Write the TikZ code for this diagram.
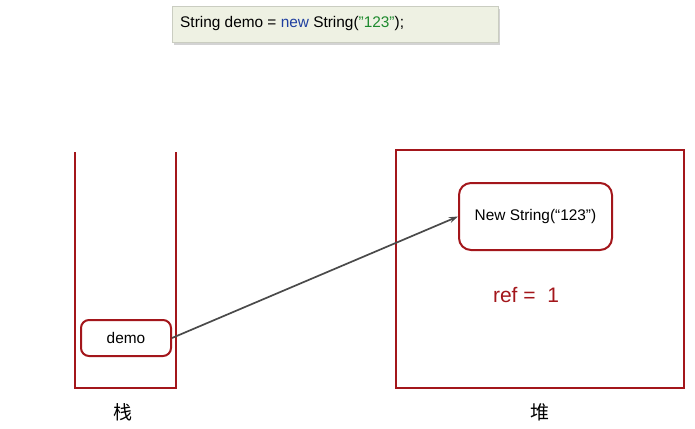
\documentclass[tikz,border=0pt]{standalone}
\usepackage{fontspec}
\setmainfont{Liberation Sans}[Ligatures=NoCommon]
\newfontfamily\cjk{Noto Sans CJK SC}
\definecolor{memred}{HTML}{A3161B}
\definecolor{codebg}{HTML}{EEF1E3}
\definecolor{kwblue}{HTML}{1F3FA0}
\definecolor{strgreen}{HTML}{1E8A2E}
\definecolor{arrowgray}{HTML}{4A4A4A}
\usetikzlibrary{positioning, arrows.meta, shadows}
\newcommand{\dq}{\symbol{34}}

\begin{document}
\begin{tikzpicture}[x=1pt, y=-1pt,
  codebox/.style={draw=codebg!85!black, fill=codebg, minimum width=326pt,
                  minimum height=36pt, inner sep=0pt,
                  drop shadow={shadow xshift=2pt, shadow yshift=-3pt, opacity=.35}},
  objbox/.style={draw=memred, line width=2pt, rounded corners=8pt,
                 fill=white, inner sep=0pt, font=\fontsize{15.4}{18}\selectfont},
  memwall/.style={draw=memred, line width=2.2pt},
  areaname/.style={font=\cjk\fontsize{19}{22}\selectfont},
  refarrow/.style={draw=arrowgray, line width=1.7pt, -{Stealth[length=9pt, width=6pt]}},
]
\useasboundingbox (0,0) rectangle (695,428);

% code line
\node[codebox] (code) at (335,24) {};
\node[anchor=west, inner sep=0pt, font=\fontsize{15.4}{18}\selectfont] (codetxt) at (180,24)
  {String demo = \textcolor{kwblue}{new} String(\textcolor{strgreen}{\dq123\dq});};

% stack
\draw[memwall] (75,152) -- (75,388) -- (176,388) -- (176,152);
\node[objbox, minimum width=90pt, minimum height=36pt] (demo) at (126,338) {demo};
\node[areaname] (stack) at (123,412) {栈};

% heap
\draw[memwall] (396,150) rectangle (684,388);
\node[objbox, rounded corners=12pt, minimum width=153pt, minimum height=67pt] (obj) at (535.5,216.5)
  {New String(“123”)};
\node[text=memred, font=\fontsize{21}{24}\selectfont] (ref) at (526,295) {ref =\ \ 1};
\node[areaname] (heap) at (540,412) {堆};

% reference
\draw[refarrow] (demo.east) -- (obj.west);
\end{tikzpicture}
\end{document}
